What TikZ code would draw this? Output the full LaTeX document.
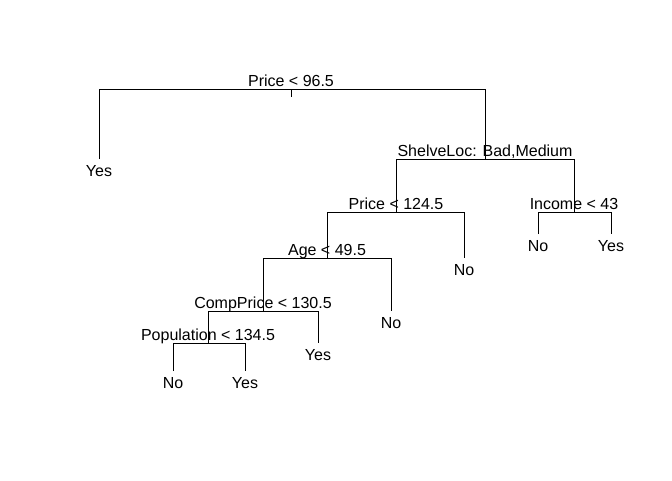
\documentclass[tikz,border=0pt]{standalone}
\usepackage{fontspec}
\setmainfont{Liberation Sans}
\usetikzlibrary{positioning}

\begin{document}
\begin{tikzpicture}[
      x=0.75pt, y=-0.75pt,
      edge/.style={draw, line width=0.75pt},
      split/.style={anchor=base, inner sep=0pt, yshift=2pt, font=\fontsize{12}{14}\selectfont},
      leaf/.style={anchor=base, inner sep=0pt, yshift=-13.4pt, font=\fontsize{12}{14}\selectfont},
    ]
    \useasboundingbox (0,0) rectangle (672,480);
    % split points
    \coordinate (price1) at (291,89);
    \coordinate (shelve) at (485,159);
    \coordinate (price2) at (396,212);
    \coordinate (income) at (574,212);
    \coordinate (age) at (327,258);
    \coordinate (comp) at (263,311);
    \coordinate (popul) at (208,343);
    % leaf ends
    \coordinate (l1) at (99,159);
    \coordinate (l2) at (538,234);
    \coordinate (l3) at (611,234);
    \coordinate (l4) at (464,258);
    \coordinate (l5) at (391,311);
    \coordinate (l6) at (318,343);
    \coordinate (l7) at (173,371);
    \coordinate (l8) at (245,371);
    % branches
    \draw[edge] (price1) -- ++(0,8);
    \draw[edge] (l1) -- (l1 |- price1) -- (shelve |- price1) -- (shelve);
    \draw[edge] (price2) -- (price2 |- shelve) -- (income |- shelve) -- (income);
    \draw[edge] (age) -- (age |- price2) -- (l4 |- price2) -- (l4);
    \draw[edge] (l2) -- (l2 |- income) -- (l3 |- income) -- (l3);
    \draw[edge] (comp) -- (comp |- age) -- (l5 |- age) -- (l5);
    \draw[edge] (popul) -- (popul |- comp) -- (l6 |- comp) -- (l6);
    \draw[edge] (l7) -- (l7 |- popul) -- (l8 |- popul) -- (l8);
    % split labels
    \node[split] (s1) at (price1) {Price < 96.5};
    \node[split] (s2) at (shelve) {ShelveLoc: Bad,Medium};
    \node[split] (s3) at (price2) {Price < 124.5};
    \node[split] (s4) at (income) {Income < 43};
    \node[split] (s5) at (age) {Age < 49.5};
    \node[split] (s6) at (comp) {CompPrice < 130.5};
    \node[split] (s7) at (popul) {Population < 134.5};
    % leaf labels
    \node[leaf] (t1) at (l1) {Yes};
    \node[leaf] (t2) at (l2) {No};
    \node[leaf] (t3) at (l3) {Yes};
    \node[leaf] (t4) at (l4) {No};
    \node[leaf] (t5) at (l5) {No};
    \node[leaf] (t6) at (l6) {Yes};
    \node[leaf] (t7) at (l7) {No};
    \node[leaf] (t8) at (l8) {Yes};
  \end{tikzpicture}
\end{document}
